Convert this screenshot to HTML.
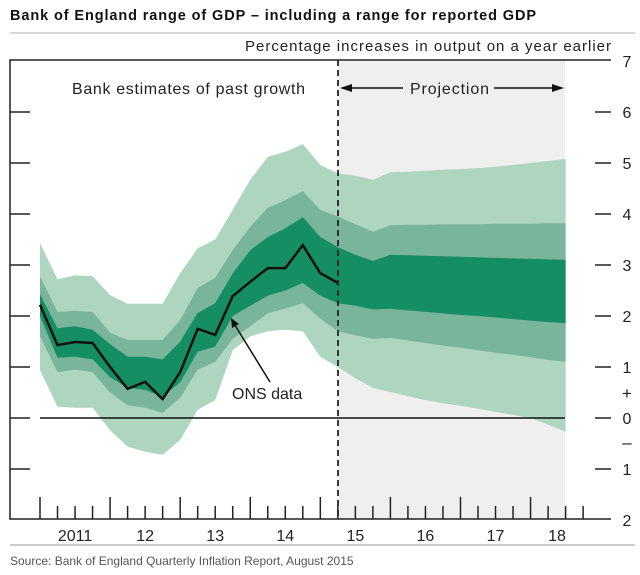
<!DOCTYPE html>
<html><head><meta charset="utf-8"><style>
body{margin:0;background:#fff;width:640px;height:575px;overflow:hidden;font-family:"Liberation Sans",sans-serif}
svg{display:block}
</style></head><body>
<svg id="chart" width="640" height="575">
<text x="10" y="20" font-size="14.5" font-weight="bold" fill="#111" textLength="526">Bank of England range of GDP – including a range for reported GDP</text>
<line x1="10" y1="33" x2="635" y2="33" stroke="#ccc" stroke-width="1.5"/>
<rect x="338" y="60" width="227" height="459" fill="#efefef"/>
<g id="bands"></g>
<g id="axes"></g>
<text x="611" y="51" font-size="15" text-anchor="end" fill="#222" textLength="366">Percentage increases in output on a year earlier</text>
<text x="72" y="94" font-size="16" fill="#222" textLength="233">Bank estimates of past growth</text>
<g>
<line x1="342" y1="88" x2="403" y2="88" stroke="#111" stroke-width="1.5"/>
<polygon points="340,88 352,84 352,92" fill="#111"/>
<text x="410" y="94" font-size="16" fill="#222" textLength="79">Projection</text>
<line x1="494" y1="88" x2="561" y2="88" stroke="#111" stroke-width="1.5"/>
<polygon points="564,88 552,84 552,92" fill="#111"/>
</g>
<g>
<line x1="270" y1="382" x2="233" y2="322" stroke="#111" stroke-width="1.5"/>
<polygon points="231,318 239,324 232,328" fill="#111"/>
<text x="232" y="399" font-size="16" fill="#222">ONS data</text>
</g>
<line x1="10" y1="545" x2="635" y2="545" stroke="#ccc" stroke-width="2"/>
<text x="10" y="565" font-size="12" fill="#555">Source:  Bank of England Quarterly Inflation Report, August 2015</text>
</svg>
<script>
const quarterIdx=[0,1,2,3,4,5,6,7,8,9,10,11,12,13,14,15,16,17,18,19,20,21,22,23,24,25,26,27,28,29,30];
const onsGrowth=[2.22,1.43,1.49,1.47,1.0,0.57,0.71,0.37,0.9,1.75,1.63,2.39,2.67,2.94,2.94,3.39,2.84,2.65];
const outerUpper=[3.43,2.72,2.8,2.78,2.41,2.24,2.24,2.24,2.84,3.33,3.5,4.08,4.67,5.12,5.22,5.37,4.96,4.8,4.75,4.67,4.82,4.83,4.85,4.87,4.88,4.9,4.93,4.96,5.0,5.04,5.08];
const middleUpper=[2.77,2.08,2.1,2.08,1.67,1.53,1.53,1.53,1.92,2.55,2.75,3.29,3.75,4.12,4.27,4.45,4.08,3.95,3.8,3.65,3.78,3.79,3.79,3.8,3.8,3.8,3.81,3.81,3.81,3.82,3.82];
const innerUpper=[2.43,1.76,1.8,1.73,1.45,1.2,1.2,1.15,1.5,2.06,2.25,2.84,3.29,3.55,3.72,3.94,3.55,3.35,3.2,3.08,3.2,3.19,3.18,3.17,3.16,3.15,3.14,3.13,3.12,3.11,3.1];
const innerLower=[2.0,1.18,1.2,1.15,0.8,0.59,0.55,0.42,0.7,1.3,1.4,2.0,2.2,2.4,2.5,2.65,2.4,2.25,2.2,2.13,2.14,2.11,2.08,2.05,2.02,2.0,1.97,1.94,1.91,1.88,1.86];
const middleLower=[1.6,0.9,0.95,0.9,0.5,0.25,0.2,0.1,0.4,0.95,1.1,1.55,1.8,2.05,2.15,2.25,1.95,1.7,1.62,1.55,1.57,1.52,1.47,1.42,1.38,1.33,1.28,1.24,1.19,1.14,1.1];
const outerLower=[0.94,0.22,0.2,0.2,-0.24,-0.56,-0.66,-0.72,-0.43,0.16,0.35,1.33,1.6,1.7,1.73,1.7,1.2,1.0,0.78,0.59,0.51,0.43,0.35,0.29,0.24,0.18,0.12,0.06,0.0,-0.13,-0.27];
const yTicks=[7,6,5,4,3,2,1,0,-1,-2];
const yTickLabels=["7","6","5","4","3","2","1","0","1","2"];
const yearLabels=["2011","12","13","14","15","16","17","18"];

const NS="http://www.w3.org/2000/svg";
const xs=i=>40+i*17.52;
const ys=v=>418-51*v;
function mk(tag,attrs,parent){const e=document.createElementNS(NS,tag);for(const k in attrs)e.setAttribute(k,attrs[k]);parent.appendChild(e);return e;}
const bands=document.getElementById('bands');
function band(up,lo,color,name){
  let d='';
  quarterIdx.forEach((q,i)=>{d+=(i?'L':'M')+xs(q).toFixed(1)+','+ys(up[i]).toFixed(1);});
  for(let i=quarterIdx.length-1;i>=0;i--)d+='L'+xs(quarterIdx[i]).toFixed(1)+','+ys(lo[i]).toFixed(1);
  const p=mk('path',{d:d+'Z',fill:color},bands);
  
  
}
band(outerUpper,outerLower,'#aed5c0','outer-band');
band(middleUpper,middleLower,'#78b59b','middle-band');
band(innerUpper,innerLower,'#168e63','inner-band');

const ax=document.getElementById('axes');
const zl=mk('line',{x1:40,y1:ys(0),x2:565,y2:ys(0),stroke:'#111','stroke-width':1.5},ax);


let od='';
onsGrowth.forEach((v,i)=>{od+=(i?'L':'M')+xs(i).toFixed(1)+','+ys(v).toFixed(1);});
const ol=mk('path',{d:od,fill:'none',stroke:'#111','stroke-width':2.5,'stroke-linejoin':'miter'},ax);


const dl=mk('line',{x1:338,y1:60,x2:338,y2:519,stroke:'#222','stroke-width':1.8,'stroke-dasharray':'6,4'},ax);


const frame=mk('path',{d:'M611,60 L10,60 L10,519 L611,519',fill:'none',stroke:'#222','stroke-width':1.5},ax);


yTicks.forEach((v,i)=>{
  const y=ys(v);
  if(v>-2&&v<7){
    const l=mk('line',{x1:10,y1:y,x2:30,y2:y,stroke:'#222','stroke-width':1.5},ax);
    
    
    const r=mk('line',{x1:595,y1:y,x2:611,y2:y,stroke:'#222','stroke-width':1.5},ax);
    
    
  }
  const t=mk('text',{x:627,y:y+6,'font-size':16,'text-anchor':'middle',fill:'#222'},ax);
  t.textContent=yTickLabels[i];
  
  
});
const plus=mk('text',{x:627,y:399,'font-size':17,'text-anchor':'middle',fill:'#222'},ax);plus.textContent='+';


const minus=mk('text',{x:627,y:448,'font-size':17,'text-anchor':'middle',fill:'#222'},ax);minus.textContent='–';


for(let q=0;q<=31;q++){
  const x=xs(q);const major=q%4===0;
  const l=mk('line',{x1:x,y1:519,x2:x,y2:major?497:506,stroke:'#222','stroke-width':1.5},ax);
  
  
}
yearLabels.forEach((s,i)=>{
  const x=i===7?557:xs(i*4+2);
  const t=mk('text',{x:x,y:541,'font-size':16,'text-anchor':'middle',fill:'#222'},ax);
  t.textContent=s;
  
  
});
</script>
</body></html>
